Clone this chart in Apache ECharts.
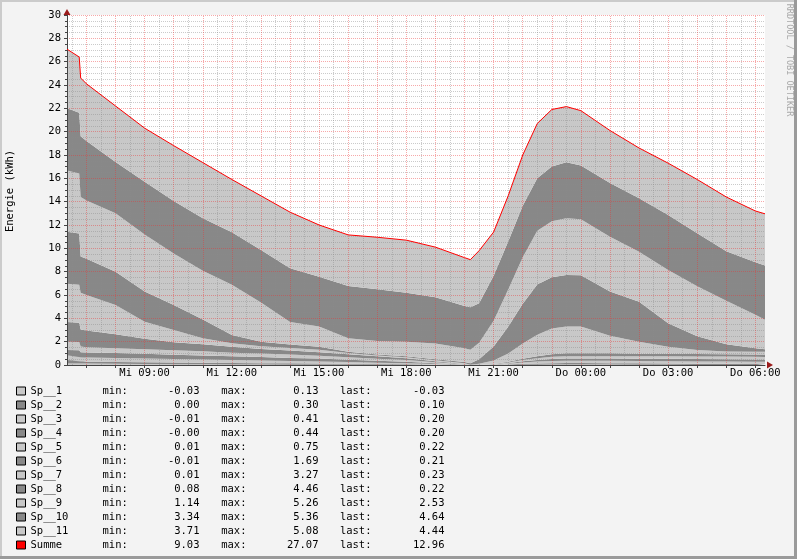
<!DOCTYPE html>
<html><head><meta charset="utf-8">
<script src="https://cdn.jsdelivr.net/npm/echarts@6/dist/echarts.min.js"></script>
<style>html,body{margin:0;padding:0;background:#f3f3f3;}#c{width:797px;height:559px;}</style>
</head><body><div id="c"></div>
<script>
// time in hours since Mi 00:00 (24+ = Do)
const hours = [6.33, 6.75, 6.8, 7, 8, 9, 10, 11, 12, 13, 14, 15, 16, 17, 18, 19, 20, 20.2, 20.5, 21, 21.5, 22, 22.5, 23, 23.5, 24, 25, 26, 27, 28, 29, 30, 30.33];
const sp1  = [0.13, 0.13, 0.12, 0.12, 0.1, 0.08, 0.07, 0.06, 0.05, 0.04, 0.03, 0.03, 0.02, 0.02, 0.01, 0, -0.01, -0.01, -0.01, 0, 0.01, 0.02, 0.03, 0.04, 0.05, 0.05, 0.04, 0.03, 0.02, 0.01, 0, -0.02, -0.03];
const sp2  = [0.3, 0.3, 0.18, 0.16, 0.15, 0.15, 0.14, 0.13, 0.12, 0.12, 0.11, 0.1, 0.08, 0.06, 0.05, 0.03, 0.01, 0, 0, 0.01, 0.04, 0.08, 0.1, 0.12, 0.12, 0.12, 0.12, 0.11, 0.11, 0.1, 0.1, 0.1, 0.1];
const sp3  = [0.41, 0.4, 0.36, 0.36, 0.35, 0.33, 0.3, 0.28, 0.25, 0.22, 0.2, 0.18, 0.15, 0.12, 0.1, 0.06, 0.02, 0, 0, 0.02, 0.06, 0.12, 0.16, 0.19, 0.2, 0.2, 0.2, 0.2, 0.2, 0.2, 0.2, 0.2, 0.2];
const sp4  = [0.44, 0.44, 0.43, 0.43, 0.42, 0.4, 0.37, 0.35, 0.32, 0.3, 0.27, 0.24, 0.2, 0.16, 0.12, 0.07, 0.02, 0, 0, 0.02, 0.05, 0.1, 0.14, 0.17, 0.18, 0.18, 0.19, 0.19, 0.2, 0.2, 0.2, 0.2, 0.2];
const sp5  = [0.72, 0.7, 0.5, 0.45, 0.42, 0.4, 0.38, 0.35, 0.32, 0.3, 0.28, 0.25, 0.22, 0.18, 0.14, 0.08, 0.03, 0.01, 0.01, 0.02, 0.06, 0.1, 0.15, 0.18, 0.2, 0.2, 0.21, 0.21, 0.22, 0.22, 0.22, 0.22, 0.22];
const sp6  = [1.69, 1.65, 1.45, 1.43, 1.2, 0.9, 0.7, 0.6, 0.5, 0.4, 0.35, 0.3, 0.25, 0.2, 0.15, 0.08, 0.02, 0, 0, 0.02, 0.06, 0.12, 0.18, 0.22, 0.25, 0.25, 0.24, 0.23, 0.22, 0.22, 0.21, 0.21, 0.21];
const sp7  = [3.27, 3.25, 3.16, 3.05, 2.5, 1.45, 1.04, 0.52, 0.3, 0.22, 0.21, 0.2, 0.1, 0.08, 0.09, 0.08, 0.06, 0.02, 0.1, 0.3, 0.7, 1.3, 1.84, 2.2, 2.3, 2.29, 1.5, 1.03, 0.6, 0.34, 0.22, 0.23, 0.23];
const sp8  = [4.46, 4.4, 3.1, 3.1, 2.86, 2.58, 2.14, 1.6, 0.71, 0.4, 0.3, 0.27, 0.12, 0.08, 0.09, 0.1, 0.1, 0.12, 0.4, 1.2, 2.3, 3.4, 4.3, 4.4, 4.42, 4.41, 3.79, 3.43, 2.0, 1.17, 0.63, 0.3, 0.22];
const sp9  = [5.26, 5.15, 5.1, 5.0, 5.0, 4.9, 4.42, 4.18, 4.3, 3.36, 1.94, 1.72, 1.15, 1.15, 1.25, 1.35, 1.18, 1.16, 1.4, 2.2, 3.2, 4.0, 4.6, 4.8, 4.85, 4.8, 4.7, 4.27, 4.57, 4.29, 3.72, 2.86, 2.53];
const sp10 = [5.33, 5.2, 5.2, 5.1, 4.4, 4.51, 4.5, 4.5, 4.5, 4.5, 4.6, 4.28, 4.48, 4.44, 4.2, 3.95, 3.63, 3.65, 3.4, 3.85, 4.1, 4.4, 4.5, 4.7, 4.8, 4.6, 4.61, 4.6, 4.72, 4.55, 4.25, 4.5, 4.64];
const sp11 = [5.06, 4.78, 5.0, 4.9, 4.8, 4.6, 4.74, 4.78, 4.53, 4.64, 4.81, 4.43, 4.38, 4.46, 4.5, 4.3, 4.14, 4.08, 4.5, 3.76, 3.92, 4.36, 4.7, 4.88, 4.78, 4.7, 4.5, 4.3, 4.44, 4.6, 4.65, 4.4, 4.44];
const summe = [27.07, 26.4, 24.6, 24.1, 22.2, 20.3, 18.8, 17.35, 15.9, 14.5, 13.1, 12.0, 11.15, 10.95, 10.7, 10.1, 9.2, 9.03, 9.8, 11.4, 14.5, 18.0, 20.7, 21.9, 22.15, 21.8, 20.1, 18.6, 17.3, 15.9, 14.4, 13.2, 12.96];

const names = ['Sp__1','Sp__2','Sp__3','Sp__4','Sp__5','Sp__6','Sp__7','Sp__8','Sp__9','Sp__10','Sp__11','Summe'];
const statMin  = ['-0.03','0.00','-0.01','-0.00','0.01','-0.01','0.01','0.08','1.14','3.34','3.71','9.03'];
const statMax  = ['0.13','0.30','0.41','0.44','0.75','1.69','3.27','4.46','5.26','5.36','5.08','27.07'];
const statLast = ['-0.03','0.10','0.20','0.20','0.22','0.21','0.23','0.22','2.53','4.64','4.44','12.96'];

const labelHours = [9, 12, 15, 18, 21, 24, 27, 30];
const majorHours = [7, 8, 9, 10, 11, 12, 13, 14, 15, 16, 17, 18, 19, 20, 21, 22, 23, 24, 25, 26, 27, 28, 29, 30];
const halfHours = [6.5, 7.5, 8.5, 9.5, 10.5, 11.5, 12.5, 13.5, 14.5, 15.5, 16.5, 17.5, 18.5, 19.5, 20.5, 21.5, 22.5, 23.5, 24.5, 25.5, 26.5, 27.5, 28.5, 29.5];
const yMajor = [2, 4, 6, 8, 10, 12, 14, 16, 18, 20, 22, 24, 26, 28, 30];
const yMinor = [];
for (let v = 0.5; v < 30; v += 0.5) { if (v % 2 !== 0) yMinor.push(v); }
const startHour = 6.33, endHour = 30.33;

const LIGHT = '#c8c8c8', DARK = '#888888';
const spData = [sp1, sp2, sp3, sp4, sp5, sp6, sp7, sp8, sp9, sp10, sp11];
const MONO = 'DejaVu Sans Mono';

// data rows are [value, hour] so that the value column is the stacked one
const series = spData.map((arr, k) => ({
  name: names[k], type: 'line', stack: 'total', stackStrategy: 'all',
  data: hours.map((h, i) => [arr[i], h]),
  encode: { x: 1, y: 0 },
  color: k % 2 === 0 ? LIGHT : DARK,
  symbol: 'none', showSymbol: false, lineStyle: { width: 0 },
  areaStyle: { color: k % 2 === 0 ? LIGHT : DARK, opacity: 1 },
  z: 1, silent: true, animation: false
}));
// grid lines drawn over the areas (as rrdtool does)
const gridSeries = (nm, color, items, z) => ({
  name: nm, type: 'line', data: [], encode: { x: 1, y: 0 }, z: z, silent: true, animation: false,
  markLine: { silent: true, animation: false, symbol: ['none', 'none'], label: { show: false }, emphasis: { disabled: true },
    lineStyle: { color: color, width: 1, type: [1, 1] }, data: items }
});
series.push(gridSeries('_minor', 'rgba(140,140,140,0.45)', yMinor.map(v => ({ yAxis: v })).concat(halfHours.map(h => ({ xAxis: h }))), 4));
series.push(gridSeries('_major', 'rgba(235,50,50,0.42)', yMajor.map(v => ({ yAxis: v })).concat(majorHours.map(h => ({ xAxis: h }))), 5));
series.push({
  name: 'Summe', type: 'line', data: hours.map((h, i) => [summe[i], h]),
  encode: { x: 1, y: 0 },
  color: '#ff0000', symbol: 'none', showSymbol: false, lineStyle: { width: 1, color: '#ff0000' },
  z: 10, silent: true, animation: false
});

const fmtX = v => { const h = Math.round(v); return (h < 24 ? 'Mi ' : 'Do ') + String(h % 24).padStart(2, '0') + ':00'; };
const xBase = { type: 'value', min: startHour, max: endHour, position: 'bottom', splitLine: { show: false } };

const chart = echarts.init(document.getElementById('c'), null, { renderer: 'canvas' });
chart.setOption({
  backgroundColor: '#f3f3f3',
  animation: false,
  grid: { left: 67, right: 32, top: 15, bottom: 194, show: false, containLabel: false, outerBoundsMode: 'none' },
  xAxis: [
    Object.assign({}, xBase, { z: 6,
      axisLine: { show: true, onZero: false, lineStyle: { color: '#444444', width: 1 } },
      axisTick: { show: true, customValues: majorHours, length: 3, lineStyle: { color: '#444444' } },
      axisLabel: { show: false } }),
    Object.assign({}, xBase, { z: 7,
      axisLine: { show: true, onZero: false, symbol: ['none', 'triangle'], symbolSize: [7, 6], symbolOffset: [0, 5], lineStyle: { color: '#9b1b1b', width: 0 } },
      axisTick: { show: false }, axisLabel: { show: false } }),
    Object.assign({}, xBase, { z: 7,
      axisLine: { show: false }, axisTick: { show: false, customValues: labelHours },
      axisLabel: { show: true, customValues: labelHours, formatter: fmtX, color: '#000', fontFamily: MONO, fontSize: 10.5, margin: 3, hideOverlap: false } })
  ],
  yAxis: [
    { type: 'value', min: 0, max: 30, interval: 2, z: 6,
      axisLine: { show: true, onZero: false, lineStyle: { color: '#444444', width: 1 } },
      axisTick: { show: true, length: 3, lineStyle: { color: '#444444' } },
      minorTick: { show: true, splitNumber: 4, length: 2, lineStyle: { color: '#444444' } },
      axisLabel: { color: '#000', fontFamily: MONO, fontSize: 10.5, margin: 6 },
      splitLine: { show: false }, minorSplitLine: { show: false } },
    { type: 'value', min: 0, max: 30, interval: 2, z: 7, position: 'left',
      axisLine: { show: true, onZero: false, symbol: ['none', 'triangle'], symbolSize: [7, 6], symbolOffset: [0, 3], lineStyle: { color: '#9b1b1b', width: 0 } },
      axisTick: { show: false }, axisLabel: { show: false }, splitLine: { show: false } }
  ],
  legend: {
    orient: 'vertical', left: 16, top: 384, padding: 0, itemGap: 0,
    itemWidth: 9, itemHeight: 8, icon: 'rect', selectedMode: false,
    itemStyle: { borderColor: '#000', borderWidth: 1 },
    data: names,
    formatter: name => {
      const i = names.indexOf(name);
      return '{n|' + name + '}{l1|min:}{v1|' + statMin[i] + '}{l2|max:}{v2|' + statMax[i] + '}{l3|last:}{v3|' + statLast[i] + '}';
    },
    textStyle: {
      fontFamily: MONO, fontSize: 10.5, color: '#000', lineHeight: 14,
      rich: {
        n: { width: 72, align: 'left', fontFamily: MONO, fontSize: 10.5, lineHeight: 14 },
        l1: { width: 30, align: 'left', fontFamily: MONO, fontSize: 10.5, lineHeight: 14 },
        v1: { width: 67, align: 'right', fontFamily: MONO, fontSize: 10.5, lineHeight: 14 },
        l2: { width: 47, align: 'right', fontFamily: MONO, fontSize: 10.5, lineHeight: 14 },
        v2: { width: 72, align: 'right', fontFamily: MONO, fontSize: 10.5, lineHeight: 14 },
        l3: { width: 53, align: 'right', fontFamily: MONO, fontSize: 10.5, lineHeight: 14 },
        v3: { width: 73, align: 'right', fontFamily: MONO, fontSize: 10.5, lineHeight: 14 }
      }
    }
  },
  graphic: [
    { type: 'rect', z: -10, shape: { x: 67, y: 15, width: 698, height: 350 }, style: { fill: '#ffffff' }, silent: true },
    { type: 'rect', shape: { x: 0, y: 0, width: 797, height: 2 }, style: { fill: '#cbcbcb' }, silent: true },
    { type: 'rect', shape: { x: 0, y: 0, width: 2, height: 559 }, style: { fill: '#cbcbcb' }, silent: true },
    { type: 'rect', shape: { x: 0, y: 556, width: 797, height: 3 }, style: { fill: '#9a9a9a' }, silent: true },
    { type: 'rect', shape: { x: 794, y: 0, width: 3, height: 559 }, style: { fill: '#9a9a9a' }, silent: true },
    { type: 'text', x: 10, y: 191, rotation: Math.PI / 2, silent: true,
      style: { text: 'Energie (kWh)', fill: '#000', font: '10.5px "DejaVu Sans Mono"', align: 'center', verticalAlign: 'middle' } },
    { type: 'text', x: 789, y: 60, rotation: -Math.PI / 2, silent: true,
      style: { text: 'RRDTOOL / TOBI OETIKER', fill: '#a8a8a8', font: '8.5px "DejaVu Sans Mono"', align: 'center', verticalAlign: 'middle' } }
  ],
  series: series
});
</script></body></html>
